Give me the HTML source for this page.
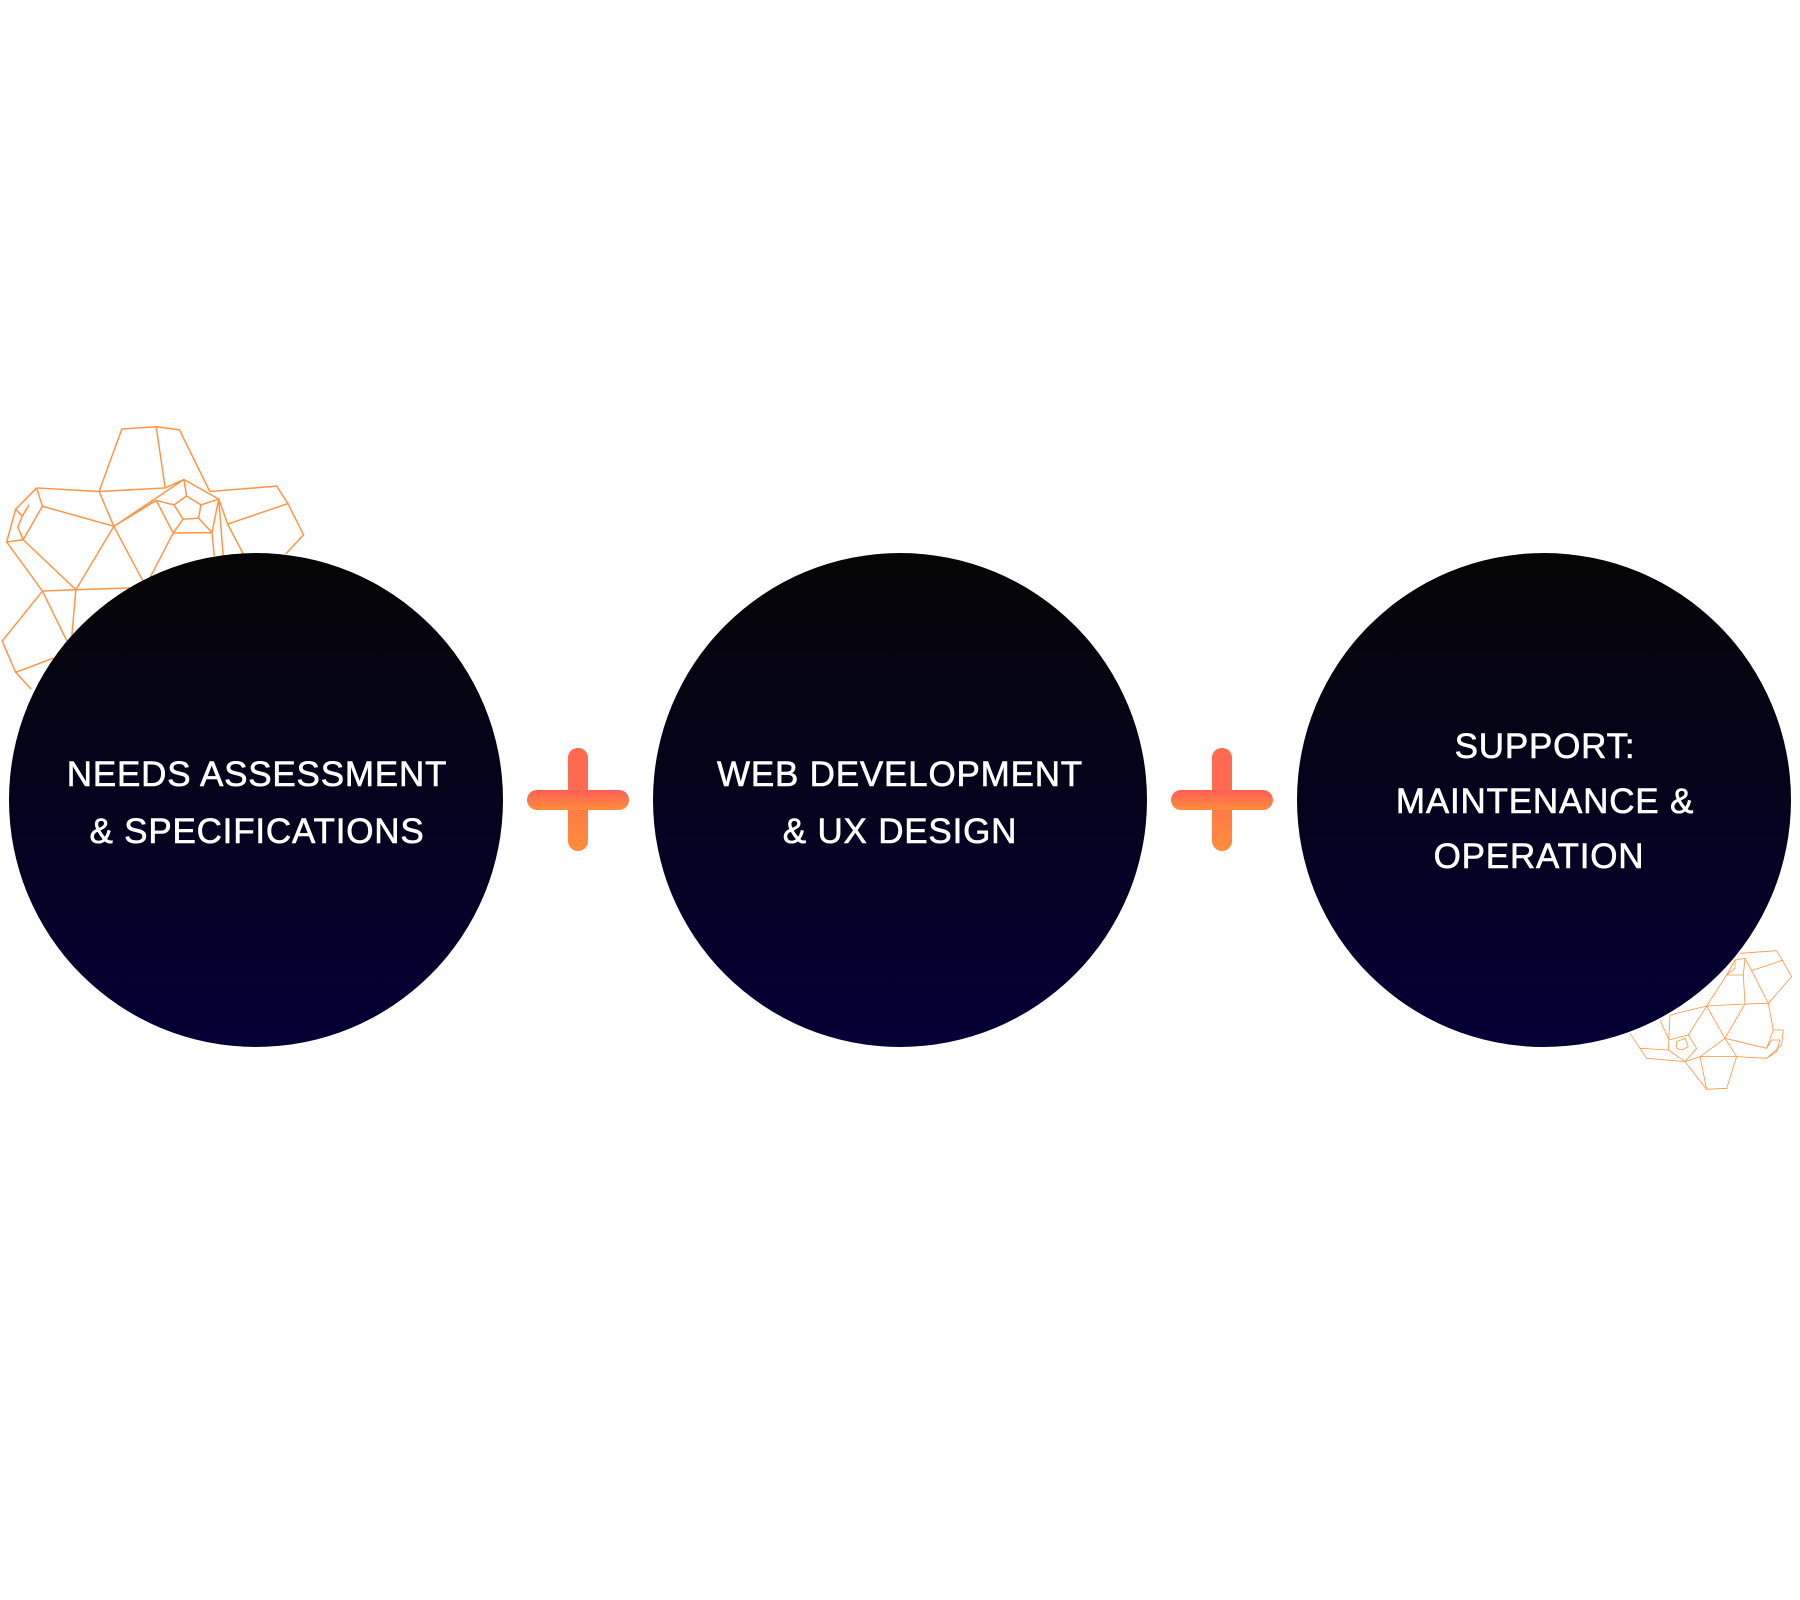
<!DOCTYPE html>
<html><head><meta charset="utf-8"><style>
html,body{margin:0;padding:0;background:#fff;}
svg{display:block;}
text{font-family:"Liberation Sans",sans-serif;font-size:35px;fill:#fff;stroke:#fff;stroke-width:0.6px;letter-spacing:0.8px;text-anchor:middle;}
</style></head><body>
<svg width="1800" height="1600" viewBox="0 0 1800 1600" xmlns="http://www.w3.org/2000/svg">
<defs>
<linearGradient id="cg" x1="0" y1="0" x2="0" y2="1">
<stop offset="0" stop-color="#050505"/><stop offset="1" stop-color="#050036"/>
</linearGradient>
<linearGradient id="pg" x1="0" y1="0" x2="0" y2="1">
<stop offset="0" stop-color="#ff5f56"/><stop offset="1" stop-color="#ff8d3c"/>
</linearGradient>
</defs>
<g fill="none" stroke="#ff9444" stroke-width="3.3" stroke-linejoin="round" transform="translate(0,400) scale(0.4464)">
<polyline points="222,205 273,65 350,60 402,67 470,205"/>
<line x1="350" y1="60" x2="370" y2="197"/>
<polyline points="82,197 222,205 370,197 412,178 490,222"/>
<line x1="222" y1="205" x2="255" y2="283"/>
<polyline points="82,197 95,238 255,283"/>
<polyline points="82,197 35,245 15,318 52,313 95,238"/>
<polyline points="35,245 50,260 65,235"/>
<polyline points="50,260 40,285 52,313"/>
<polyline points="15,318 95,428 170,425 320,420"/>
<line x1="52" y1="313" x2="170" y2="425"/>
<polyline points="170,425 255,283 320,405"/>
<line x1="255" y1="283" x2="412" y2="178"/>
<line x1="255" y1="283" x2="350" y2="225"/>
<polyline points="350,225 390,235 418,215 450,235 445,265 410,267 390,235"/>
<line x1="412" y1="178" x2="418" y2="215"/>
<line x1="450" y1="235" x2="490" y2="222"/>
<polyline points="350,225 388,298 475,297 490,222 510,278 645,232 620,193 470,205"/>
<line x1="410" y1="267" x2="388" y2="298"/>
<line x1="445" y1="265" x2="475" y2="297"/>
<line x1="475" y1="297" x2="480" y2="350"/>
<line x1="490" y1="222" x2="500" y2="350"/>
<polyline points="645,232 680,302 640,345"/>
<line x1="510" y1="278" x2="545" y2="345"/>
<line x1="388" y1="298" x2="335" y2="400"/>
<polyline points="95,428 5,540 35,610 70,648"/>
<line x1="35" y1="610" x2="120" y2="578"/>
<line x1="170" y1="425" x2="160" y2="540"/>
<line x1="95" y1="428" x2="150" y2="540"/>
</g>
<g fill="none" stroke="#ff9444" stroke-width="2.4" stroke-linejoin="round" transform="translate(1600,930) scale(0.3333)">
<polyline points="420,70 530,62 575,140 505,220 435,222 320,228 210,255"/>
<polyline points="550,90 455,122 435,85"/>
<line x1="455" y1="122" x2="505" y2="220"/>
<polyline points="435,85 405,90 380,135 320,228"/>
<polyline points="405,90 405,115 380,135"/>
<polyline points="435,85 430,135 435,222"/>
<line x1="380" y1="135" x2="430" y2="135"/>
<polyline points="320,228 375,325 435,222"/>
<polyline points="375,325 300,380 255,395"/>
<polyline points="375,325 410,380 300,380"/>
<polyline points="375,325 500,355 520,300 505,220"/>
<polyline points="410,380 500,385 545,345 550,300 520,300"/>
<polyline points="500,355 515,330 540,330 530,365 500,385"/>
<polyline points="210,255 205,360 255,395 320,478 380,475 410,380"/>
<line x1="300" y1="380" x2="320" y2="478"/>
<polyline points="205,360 120,355 140,385 255,395"/>
<line x1="120" y1="355" x2="90" y2="310"/>
<polyline points="205,330 265,315 290,355 255,395"/>
<polyline points="230,335 255,325 265,350 245,360 230,355 230,335"/>
<line x1="265" y1="315" x2="320" y2="228"/>
<line x1="180" y1="270" x2="205" y2="325"/>
</g>
<circle cx="256" cy="800" r="247" fill="url(#cg)"/>
<circle cx="900" cy="800" r="247" fill="url(#cg)"/>
<circle cx="1544" cy="800" r="247" fill="url(#cg)"/>
<g fill="url(#pg)">
<rect x="568" y="748" width="20" height="103" rx="10"/>
<rect x="527" y="790" width="102" height="20" rx="10"/>
<rect x="1212" y="748" width="20" height="103" rx="10"/>
<rect x="1171" y="790" width="102" height="20" rx="10"/>
</g>
<g fill="#ff6a50">
<rect x="568" y="748" width="20" height="42" rx="10"/>
<rect x="1212" y="748" width="20" height="42" rx="10"/>
</g>
<text x="257" y="786">NEEDS ASSESSMENT</text>
<text x="257" y="843">&amp; SPECIFICATIONS</text>
<text x="900" y="786">WEB DEVELOPMENT</text>
<text x="900" y="843">&amp; UX DESIGN</text>
<text x="1545" y="758">SUPPORT:</text>
<text x="1545" y="813">MAINTENANCE &amp;</text>
<text x="1539" y="868">OPERATION</text>
</svg>
</body></html>
